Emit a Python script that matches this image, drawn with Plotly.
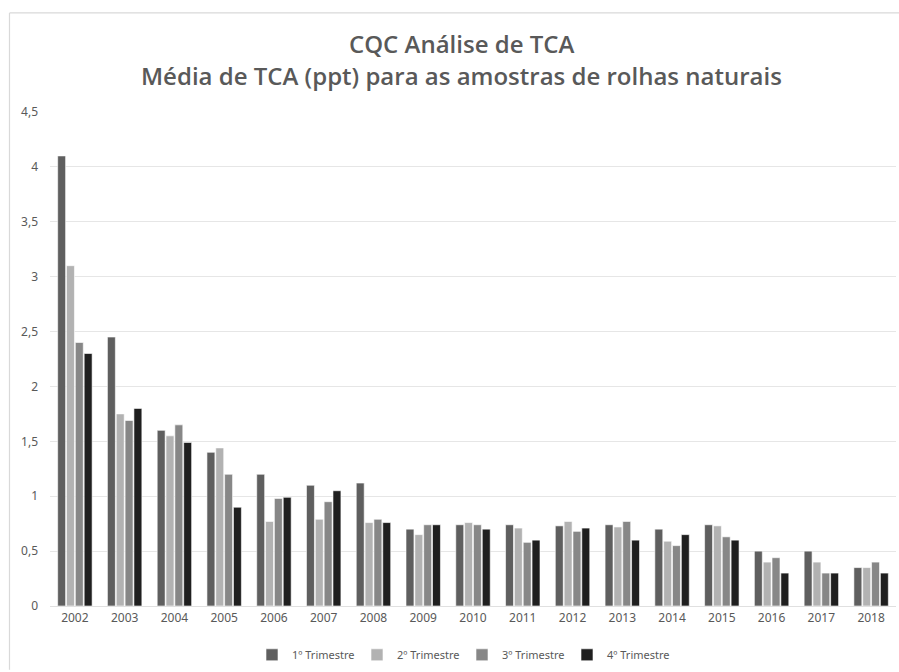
import plotly.graph_objects as go

years = ["2002", "2003", "2004", "2005", "2006", "2007", "2008", "2009", "2010",
         "2011", "2012", "2013", "2014", "2015", "2016", "2017", "2018"]
q1 = [4.10, 2.45, 1.60, 1.40, 1.20, 1.10, 1.12, 0.70, 0.74, 0.74, 0.73, 0.74, 0.70, 0.74, 0.50, 0.50, 0.35]
q2 = [3.10, 1.75, 1.55, 1.44, 0.77, 0.79, 0.76, 0.65, 0.76, 0.71, 0.77, 0.72, 0.59, 0.73, 0.40, 0.40, 0.35]
q3 = [2.40, 1.69, 1.65, 1.20, 0.98, 0.95, 0.79, 0.74, 0.74, 0.58, 0.68, 0.77, 0.55, 0.63, 0.44, 0.30, 0.40]
q4 = [2.30, 1.80, 1.49, 0.90, 0.99, 1.05, 0.76, 0.74, 0.70, 0.60, 0.71, 0.60, 0.65, 0.60, 0.30, 0.30, 0.30]
series_names = ["1º Trimestre", "2º Trimestre", "3º Trimestre", "4º Trimestre"]
series_values = [q1, q2, q3, q4]
colors = ["#5f5f5f", "#b2b2b2", "#878787", "#1f1f1f"]

W, H = 899, 672
L, R, T, B = 50, 3, 112, 64
pw, ph = W - L - R, H - T - B


def px(x):
    return (x - L) / pw


def py(y):
    return (H - B - y) / ph


fig = go.Figure()
for name, vals, col in zip(series_names, series_values, colors):
    fig.add_trace(go.Bar(x=years, y=vals, name=name,
                         marker=dict(color=col, line=dict(color="white", width=0.6))))

title_font = dict(family="Open Sans", size=24, color="#595959", weight=600)

fig.update_layout(
    width=W, height=H,
    margin=dict(l=L, r=R, t=T, b=B),
    paper_bgcolor="white", plot_bgcolor="white",
    separators=", ",
    barmode="group", bargap=0.29, bargroupgap=0.1,
    font=dict(family="Noto Sans", size=12, color="#595959"),
    showlegend=True,
    legend=dict(orientation="h", x=px(462), xanchor="center", y=py(657), yanchor="middle",
                font=dict(size=11, color="#595959"), entrywidth=60, itemwidth=30,
                traceorder="normal"),
    xaxis=dict(showgrid=False, showline=False, ticks="", tickfont=dict(size=12, color="#595959"),
               ticklabelstandoff=3),
    yaxis=dict(range=[0, 4.5], dtick=0.5, showgrid=True, gridcolor="#e6e6e6", gridwidth=1,
               zeroline=True, zerolinecolor="#e0e0e0", zerolinewidth=1, showline=False,
               ticks="", tickfont=dict(size=12, color="#595959"), ticklabelstandoff=11),
    annotations=[
        dict(text="CQC Análise de TCA", x=px(461), y=py(43), xref="paper", yref="paper",
             xanchor="center", yanchor="middle", showarrow=False, font=title_font),
        dict(text="Média de TCA (ppt) para as amostras de rolhas naturais", x=px(461), y=py(75),
             xref="paper", yref="paper", xanchor="center", yanchor="middle", showarrow=False,
             font=title_font),
    ],
    shapes=[
        dict(type="line", xref="paper", yref="paper", x0=px(9.5), x1=px(899), y0=py(12.5), y1=py(12.5),
             line=dict(color="#d9d9d9", width=1.2)),
        dict(type="line", xref="paper", yref="paper", x0=px(9.5), x1=px(9.5), y0=py(12.5), y1=py(672),
             line=dict(color="#d9d9d9", width=1.2)),
    ],
)

fig.write_html("out.html", config={"displayModeBar": False},
               post_script="document.body.style.margin='0';document.body.style.overflow='hidden';")
